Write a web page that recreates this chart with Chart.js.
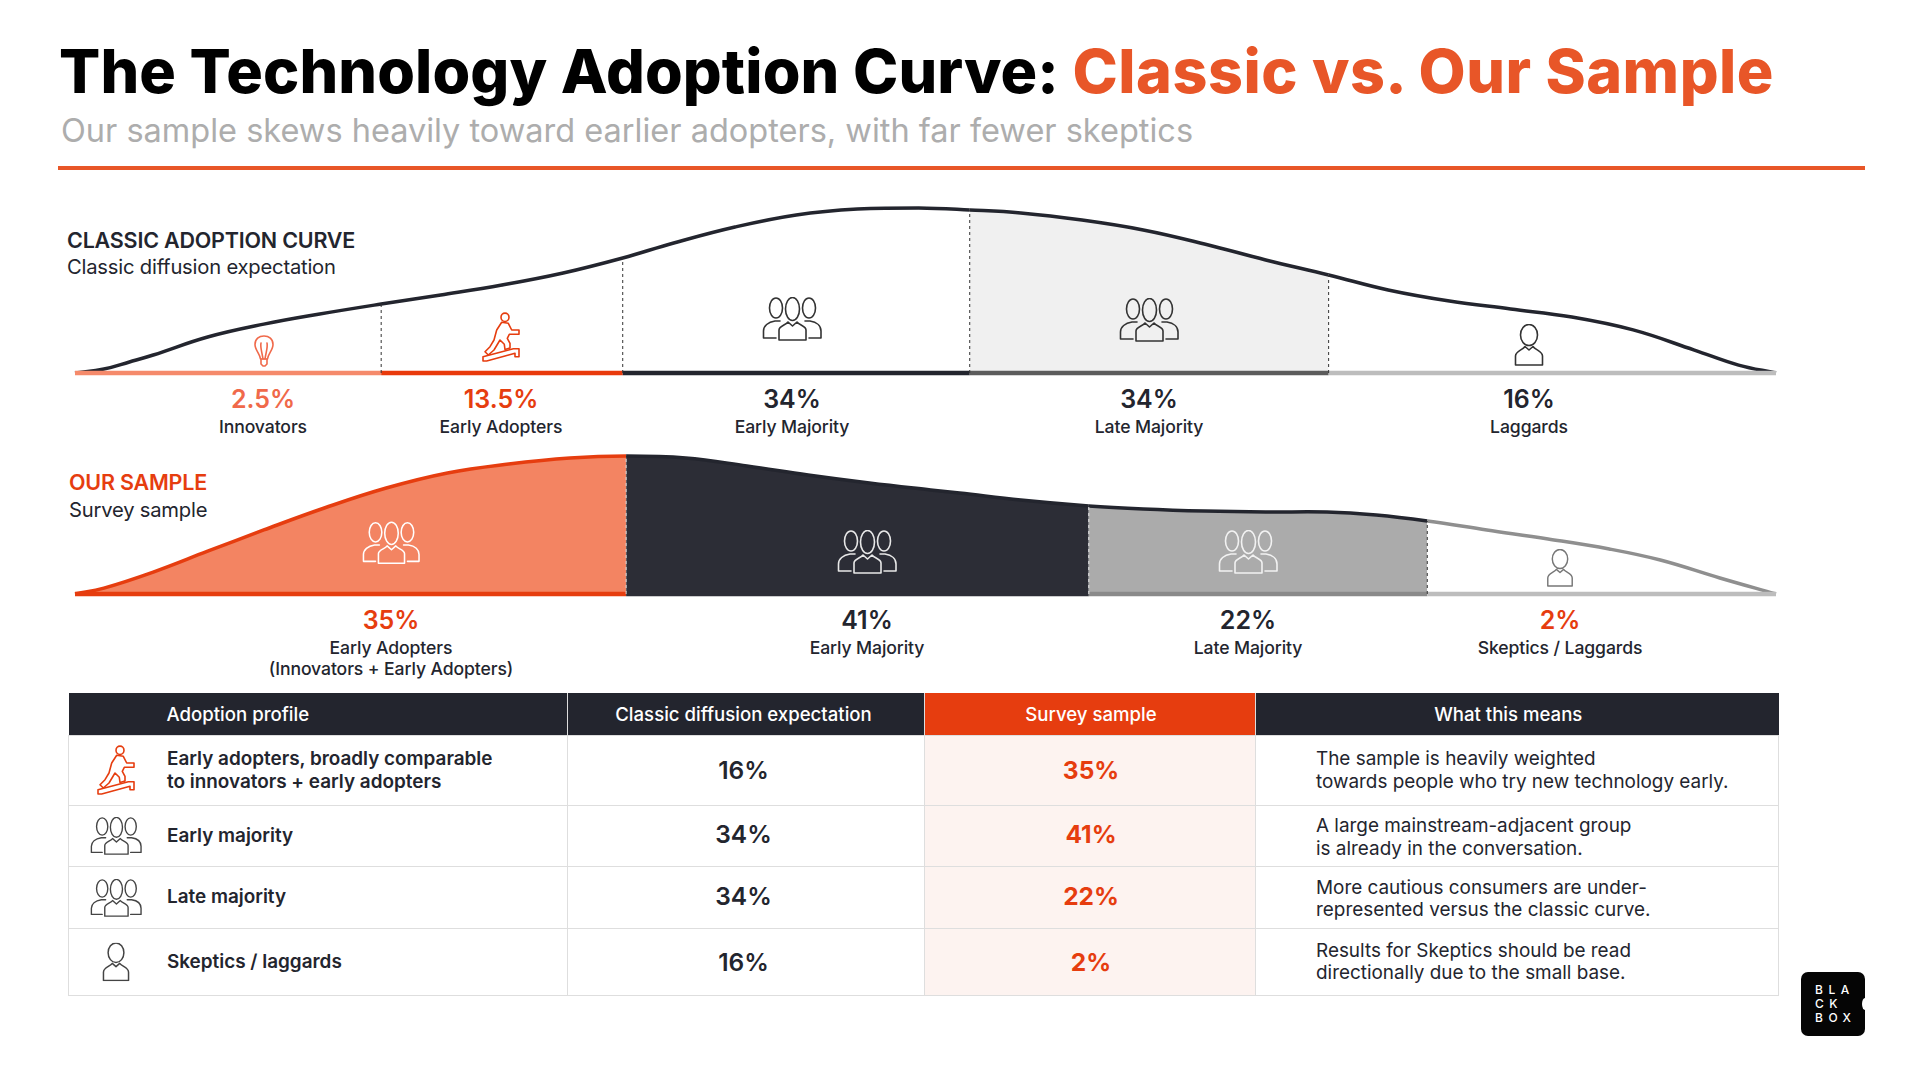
<!DOCTYPE html>
<html>
<head>
<meta charset="utf-8">
<title>The Technology Adoption Curve</title>
<script src="https://cdn.jsdelivr.net/npm/chart.js@4"></script>
<style>
  html, body { margin: 0; padding: 0; background: #fff; }
  #page { position: relative; width: 1920px; height: 1080px; overflow: hidden; font-family: Inter, sans-serif; color: #23252e; }
  .abs { position: absolute; white-space: nowrap; }
  #titulo { left: 59px; top: 31px; font-size: 61px; line-height: 80px; font-weight: 800; color: #000; letter-spacing: 0.13px; }
  #titulo span { color: #e85628; letter-spacing: 0.5px; }
  #subtitulo { left: 61px; top: 110px; font-size: 32.5px; line-height: 42px; color: #adadad; letter-spacing: 0; }
  #regla { left: 58px; top: 166px; width: 1807px; height: 4px; background: #e85628; }
  .sec-h { font-size: 21.5px; line-height: 26px; font-weight: 600; letter-spacing: -0.2px; }
  .sec-s { font-size: 20.2px; line-height: 26px; letter-spacing: -0.2px; }
  .pct { transform: translateX(-50%); font-size: 25px; line-height: 30px; font-weight: 600; text-align: center; }
  .lab { transform: translateX(-50%); font-size: 17.6px; line-height: 21px; font-weight: 500; text-align: center; letter-spacing: -0.1px; }
  canvas { position: absolute; }
  svg.ic { position: absolute; transform: translate(-50%, -50%); fill: none; stroke-width: 1.6; stroke-linejoin: round; stroke-linecap: round; }
  table { position: absolute; left: 68px; top: 693px; width: 1710px; border-collapse: collapse; table-layout: fixed; }
  th { height: 42px; padding: 0; background: #23252e; color: #fff; font-size: 18.6px; font-weight: 500; border-left: 1px solid #ddd; }
  th:first-child { text-align: left; padding-left: 98px; border-left: 0; }
  th:nth-child(2) { padding-right: 5px; }
  th:nth-child(4) { padding-right: 18px; }
  th.rojo { background: #e63d0f; padding-left: 2px; }
  td { padding: 0; border: 1px solid #dedede; font-size: 18.9px; line-height: 22.5px; font-weight: 500; }
  td.prof { padding-left: 98px; font-weight: 600; }
  td.val { text-align: center; font-size: 24.5px; font-weight: 600; padding-right: 5px; }
  td.sur { text-align: center; font-size: 24.5px; font-weight: 700; color: #e63d0f; background: #fdf3f0; padding-left: 2px; }
  td.mean { padding-left: 60px; font-weight: 400; }
  tr.alto td.mean { padding-top: 3px; }
  tr.alto td.val, tr.alto td.sur { padding-bottom: 3px; }
  #logo { left: 1801px; top: 972px; width: 64px; height: 64px; background: #050505; border-radius: 7px; }
  #logo i { position: absolute; right: -3px; top: 26px; width: 6px; height: 12px; border-radius: 50%; background: #fff; }
  #logo div { position: absolute; left: 14px; font-size: 12px; line-height: 14px; color: #fff; font-weight: 500; letter-spacing: 5.5px; }
</style>
</head>
<body>
<svg width="0" height="0" style="position:absolute">
  <defs>
    <symbol id="i-grupo" viewBox="0 0 60 44">
      <ellipse cx="14" cy="11" rx="6.5" ry="10"/><ellipse cx="47" cy="11" rx="6.5" ry="10"/><ellipse cx="30.5" cy="12" rx="7" ry="11.5"/>
      <path d="M17 43 V33 C17 29 24 28 26 25 L30.5 29 L35 25 C37 28 44 29 44 33 V43 Z"/>
      <path d="M18 24 H13 C6 25 1.5 29 1.5 34 V41 H14"/><path d="M43 24 H48 C55 25 59 29 59 34 V41 H47"/>
    </symbol>
    <symbol id="i-persona" viewBox="0 0 31 42">
      <ellipse cx="15.5" cy="11" rx="8.5" ry="10.5"/>
      <path d="M2 41 V32 C2 27 9 26 11.5 22.5 L15.5 26 L19.5 22.5 C22 26 29 27 29 32 V41 Z"/>
    </symbol>
    <symbol id="i-foco" viewBox="0 0 20 32">
      <path d="M6.5 24 C6 19 1 15 1 9.5 C1 4 5 1 10 1 C15 1 19 4 19 9.5 C19 15 14 19 13.5 24 Z"/>
      <path d="M7 24 V29 L9 31 H11 L13 29 V24"/><path d="M9 24 C8 17 6 12 7 8 M11 24 C12 17 14 12 13 8"/>
    </symbol>
    <symbol id="i-corredor" viewBox="0 0 38 50">
      <ellipse cx="23" cy="5.3" rx="4" ry="4.2"/>
      <path d="M19.7 10.3 L26.3 11.3 L29.7 18 H37 V22.3 H27.3 L25.3 26.3 L28 31.3 V36 L23 37.5 L22.3 32.3 L18 28 L12 38 L6.3 43 L3 39.7 L8 34.7 L12 28 L14.7 18 Z"/>
      <path d="M1 44.7 L31.3 36.8 H37 V44.7 H33 V41.3 L4.7 49 H1 Z"/>
    </symbol>
  </defs>
</svg>
<div id="page">
  <div class="abs" id="titulo">The Technology Adoption Curve: <span>Classic vs. Our Sample</span></div>
  <div class="abs" id="subtitulo">Our sample skews heavily toward earlier adopters, with far fewer skeptics</div>
  <div class="abs" id="regla"></div>
  <div class="abs sec-h" style="left:67px;top:227px">CLASSIC ADOPTION CURVE</div>
  <div class="abs sec-s" style="left:67px;top:254px">Classic diffusion expectation</div>
  <div class="abs sec-h" style="left:69px;top:469px;color:#e63d0f">OUR SAMPLE</div>
  <div class="abs sec-s" style="left:69px;top:497px">Survey sample</div>
  <canvas id="cuadroClasico" width="1721" height="185" style="left:65px;top:198px"></canvas>
  <canvas id="cuadroMuestra" width="1721" height="158" style="left:65px;top:446px"></canvas>
  <table id="tabla"></table>
  <div class="abs" id="logo"><i></i><div style="top:11px">BLA</div><div style="top:25px">CK</div><div style="top:39px">BOX</div></div>
</div>
<script>
// curva clasica: posicion (0-100) y altura relativa
const clasicoX = [0, 1.7, 3.2, 4.6, 7.8, 11.1, 14.3, 18.0, 21.5, 25.1, 28.7, 32.2, 35.2, 38.8, 42.4, 46.0, 49.6, 52.6, 55.6, 59.2, 62.8, 66.4, 70.0, 73.7, 77.2, 80.8, 84.4, 88.0, 91.6, 95.2, 97.8, 100];
const clasicoY = [0, 2.4, 6.7, 10.9, 21.8, 29.6, 35.6, 41.8, 47.3, 53.3, 60.6, 69.7, 78.8, 88.5, 95.8, 99.4, 100, 98.8, 97, 92.7, 86.7, 78.2, 68.5, 59.4, 50.3, 43.6, 38.8, 33.9, 26.1, 13.9, 4.8, 0];
const clasicoCortes = [18.0, 32.2, 52.6, 73.7];
const clasicoCategorias = ['Innovators', 'Early Adopters', 'Early Majority', 'Late Majority', 'Laggards'];
const clasicoValores = [2.5, 13.5, 34, 34, 16];

// curva de la muestra
const muestraX = [0, 1.7, 4.6, 7.8, 11.1, 14.7, 18.3, 21.9, 25.5, 29.1, 32.4, 35.9, 39.5, 43.1, 46.7, 50.3, 52.0, 55.6, 59.6, 62.8, 66.4, 70.0, 73.6, 76.5, 79.5, 83.0, 86.6, 90.2, 93.2, 96.7, 100];
const muestraY = [0, 4.3, 15.9, 31.0, 46.4, 62.5, 76.8, 87.7, 94.2, 98.6, 100, 98.6, 92.8, 86.2, 80.4, 75.4, 73.2, 68.1, 63.8, 61.6, 60.1, 59.4, 59.4, 57.2, 52.9, 46.4, 39.9, 32.6, 24.6, 11.6, 0];
const muestraCortes = [32.4, 59.6, 79.5];
const muestraCategorias = ['Early Adopters<br>(Innovators + Early Adopters)', 'Early Majority', 'Late Majority', 'Skeptics / Laggards'];
const muestraValores = [35, 41, 22, 2];

// tabla
const tablaCabecera = ['Adoption profile', 'Classic diffusion expectation', 'Survey sample', 'What this means'];
const tablaPerfil = ['Early adopters, broadly comparable<br>to innovators + early adopters', 'Early majority', 'Late majority', 'Skeptics / laggards'];
const tablaClasico = [16, 34, 34, 16];
const tablaMuestra = [35, 41, 22, 2];
const tablaSignifica = [
    'The sample is heavily weighted<br>towards people who try new technology early.',
    'A large mainstream-adjacent group<br>is already in the conversation.',
    'More cautious consumers are under-<br>represented versus the classic curve.',
    'Results for Skeptics should be read<br>directionally due to the small base.'
];

// colores por tramo
const oscuro = '#23252e';
const clasicoLinea = [oscuro, oscuro, oscuro, oscuro, oscuro];
const clasicoRelleno = ['transparent', 'transparent', 'transparent', '#f0f0f0', 'transparent'];
const clasicoBase = ['#f58a6b', '#e93a0c', oscuro, '#5c5c5c', '#bdbdbd'];
const clasicoPct = ['#f0694a', '#e63d0f', oscuro, oscuro, oscuro];
const muestraLinea = ['#e63d0f', oscuro, oscuro, '#8f8f8f'];
const muestraRelleno = ['#f38462', '#2c2d36', '#ababab', 'transparent'];
const muestraBase = ['#e63d0f', '#2c2d36', '#8a8a8a', '#bdbdbd'];
const muestraPct = ['#e63d0f', oscuro, oscuro, '#e63d0f'];
const muestraGuion = ['#d9d9d9', '#e8e8e8', '#333'];

function tramo(x, cortes) {
    let i = 0;
    while (i < cortes.length && x >= cortes[i]) i++;
    return i;
}

function crearCuadro(id, xs, ys, cortes, linea, relleno, base, guion) {
    const puntos = xs.map((x, i) => ({ x: x, y: ys[i] }));
    const piso = xs.map(x => ({ x: x, y: 0 }));
    const datasets = [
        {
            data: piso, borderWidth: 4.5, pointRadius: 0, fill: false,
            borderColor: base[0],
            segment: { borderColor: c => base[tramo(c.p0.parsed.x, cortes)] },
            clip: false
        },
        {
            data: puntos, borderWidth: 3.5, pointRadius: 0, tension: 0.4,
            borderColor: linea[0], backgroundColor: relleno[0], fill: 'origin',
            segment: {
                borderColor: c => linea[tramo(c.p0.parsed.x, cortes)],
                backgroundColor: c => relleno[tramo(c.p0.parsed.x, cortes)]
            },
            clip: false
        }
    ];
    cortes.forEach((c, i) => {
        datasets.unshift({
            data: [{ x: c, y: 0 }, { x: c, y: ys[xs.indexOf(c)] }],
            borderColor: guion[i], borderWidth: 1, borderDash: [3, 3], pointRadius: 0, fill: false, clip: false
        });
    });
    return new Chart(document.getElementById(id).getContext('2d'), {
        type: 'line',
        data: { datasets: datasets },
        options: {
            responsive: false, animation: false,
            layout: { padding: 10 },
            scales: {
                x: { type: 'linear', min: 0, max: 100, display: false },
                y: { min: 0, max: 100, display: false }
            },
            plugins: { legend: { display: false }, tooltip: { enabled: false } }
        }
    });
}

crearCuadro('cuadroClasico', clasicoX, clasicoY, clasicoCortes, clasicoLinea, clasicoRelleno, clasicoBase, ['#333', '#333', '#333', '#333']);
crearCuadro('cuadroMuestra', muestraX, muestraY, muestraCortes, muestraLinea, muestraRelleno, muestraBase, muestraGuion);

const pagina = document.getElementById('page');

function ponerEtiquetas(categorias, valores, colores, centros, yPct, yLab) {
    categorias.forEach((cat, i) => {
        const p = document.createElement('div');
        p.className = 'abs pct';
        p.style.cssText = 'left:' + centros[i] + 'px;top:' + yPct + 'px;color:' + colores[i];
        p.textContent = valores[i] + '%';
        pagina.appendChild(p);
        const l = document.createElement('div');
        l.className = 'abs lab';
        l.style.cssText = 'left:' + centros[i] + 'px;top:' + yLab + 'px';
        l.innerHTML = cat;
        pagina.appendChild(l);
    });
}
ponerEtiquetas(clasicoCategorias, clasicoValores, clasicoPct, [263, 501, 792, 1149, 1529], 384, 416);
ponerEtiquetas(muestraCategorias, muestraValores, muestraPct, [391, 867, 1248, 1560], 605, 637);

function icono(nombre, cx, cy, w, h, color) {
    const s = document.createElementNS('http://www.w3.org/2000/svg', 'svg');
    s.setAttribute('class', 'ic');
    s.setAttribute('width', w);
    s.setAttribute('height', h);
    s.style.cssText = 'left:' + cx + 'px;top:' + cy + 'px;stroke:' + color;
    const u = document.createElementNS('http://www.w3.org/2000/svg', 'use');
    u.setAttribute('href', '#i-' + nombre);
    s.appendChild(u);
    pagina.appendChild(s);
}

// la tabla va antes que los iconos para que queden encima
const filasAlto = [70, 61, 62, 67];
let html = '<colgroup><col style="width:499px"><col style="width:357px"><col style="width:331px"><col style="width:523px"></colgroup><tr>';
tablaCabecera.forEach((t, i) => { html += '<th class="' + (i === 2 ? 'rojo' : '') + '">' + t + '</th>'; });
html += '</tr>';
tablaPerfil.forEach((p, i) => {
    html += '<tr class="' + (i === 1 || i === 2 ? 'alto' : '') + '" style="height:' + filasAlto[i] + 'px"><td class="prof">' + p + '</td><td class="val">' + tablaClasico[i] + '%</td><td class="sur">' + tablaMuestra[i] + '%</td><td class="mean">' + tablaSignifica[i] + '</td></tr>';
});
document.getElementById('tabla').innerHTML = html;

icono('foco', 264, 351, 20, 32, '#f0694a');
icono('corredor', 501, 337, 38, 50, '#e63d0f');
icono('grupo', 792, 319, 60, 44, '#333');
icono('grupo', 1149, 320, 60, 44, '#333');
icono('persona', 1529, 345, 31, 42, '#333');
icono('grupo', 391, 543, 58, 44, '#fff');
icono('grupo', 867, 552, 60, 44, '#e8e8e8');
icono('grupo', 1248, 552, 60, 44, '#f2f2f2');
icono('persona', 1560, 568, 29, 38, '#777');
icono('corredor', 116, 770, 38, 50, '#e63d0f');
icono('grupo', 116, 836, 52, 38, '#444');
icono('grupo', 116, 898, 52, 38, '#444');
icono('persona', 116, 962, 31, 39, '#444');
</script>
</body>
</html>
